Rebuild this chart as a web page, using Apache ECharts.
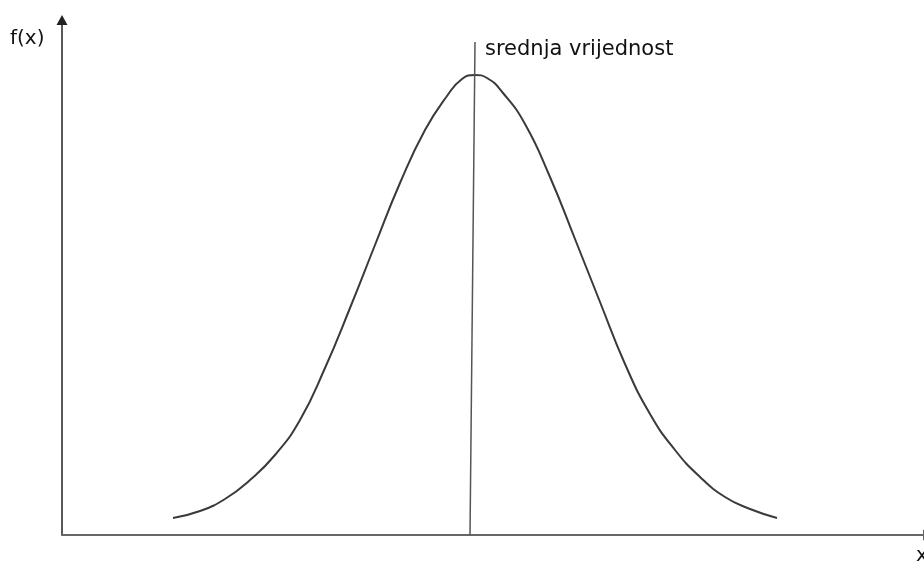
<!DOCTYPE html>
<html>
<head>
<meta charset="utf-8">
<script src="https://cdn.jsdelivr.net/npm/echarts@6/dist/echarts.min.js"></script>
<style>
html,body{margin:0;padding:0;background:#fff;}
#chart{width:924px;height:561px;}
</style>
</head>
<body>
<div id="chart"></div>
<script>
// Bell curve points (arbitrary units)
const curveX = [111,138,163,188,213,238,263,288,313,338,363,385,400,413,425,441,463,488,513,538,563,588,613,638,663,688,715];
const curveY = [17,24,36,55,80,115,167,227,290,352,405,439,456,460,457,442,411,358,296,233,171,121,85,58,38,26,17];
// Mean marker line (slightly tilted in the original)
const meanX = [408, 413];
const meanY = [0, 493];
const meanLabel = 'srednja vrijednost';
const yAxisName = 'f(x)';
const xAxisName = 'x';

const chart = echarts.init(document.getElementById('chart'));
const font = '"DejaVu Sans", "Open Sans", sans-serif';
chart.setOption({
  animation: false,
  backgroundColor: '#fff',
  grid: {left: 62, right: 0, top: 20, bottom: 26},
  xAxis: {
    type: 'value', min: 0, max: 862,
    axisLine: {show: true, onZero: false, symbol: ['none', 'triangle'], symbolSize: [11, 10], symbolOffset: [0, 4], lineStyle: {color: '#666', width: 1.8}},
    axisTick: {show: false}, axisLabel: {show: false}, splitLine: {show: false}
  },
  yAxis: {
    type: 'value', min: 0, max: 515,
    axisLine: {show: true, onZero: false, symbol: ['none', 'triangle'], symbolSize: [11, 10], lineStyle: {color: '#222', width: 1.5}},
    axisTick: {show: false}, axisLabel: {show: false}, splitLine: {show: false}
  },
  series: [
    {
      type: 'line', smooth: true, symbol: 'none',
      data: curveX.map((x, i) => [x, curveY[i]]),
      lineStyle: {color: '#3a3a3a', width: 2}
    },
    {
      type: 'line', symbol: 'none',
      data: meanX.map((x, i) => [x, meanY[i]]),
      lineStyle: {color: '#555', width: 1.5}
    }
  ],
  graphic: [
    {type: 'text', left: 10, top: 29, style: {text: yAxisName, font: '20px ' + font, fill: '#111'}},
    {type: 'text', left: 916, top: 546, style: {text: xAxisName, font: '20px ' + font, fill: '#111'}},
    {type: 'text', left: 485, top: 39, style: {text: meanLabel, font: '21px ' + font, fill: '#111'}}
  ]
});
</script>
</body>
</html>
